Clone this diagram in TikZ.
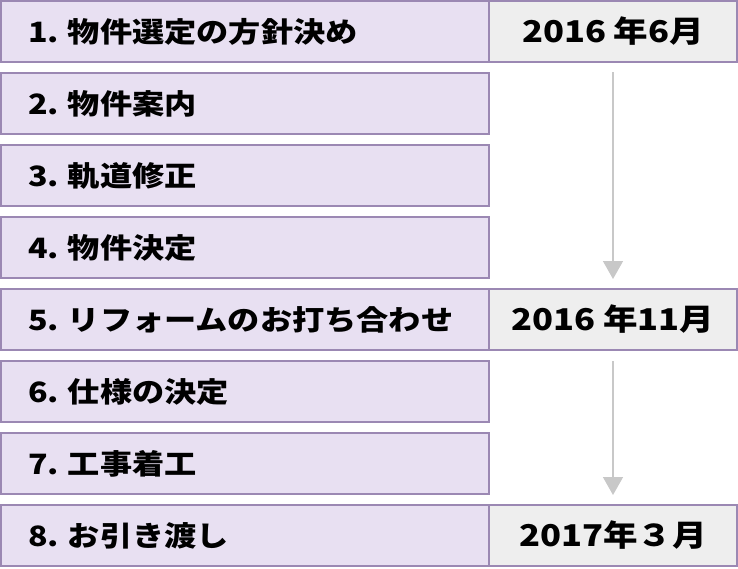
\documentclass[tikz,border=0pt]{standalone}
\usepackage{fontspec}
\setmainfont{Noto Sans CJK JP}[FakeStretch=1.15]
\usepackage{xcolor}
\usepackage{tikz}
\usetikzlibrary{arrows.meta}

\definecolor{itemfill}{HTML}{E8E0F2}
\definecolor{datefill}{HTML}{EEEEEE}
\definecolor{framecol}{HTML}{9B88B3}
\definecolor{flowgray}{HTML}{C8C8C8}

\tikzset{
    itembox/.style={draw=framecol, fill=itemfill, line width=2pt, outer sep=0pt,
        anchor=north west, inner xsep=27pt, text width=434pt, align=left,
        minimum height=61pt, font=\fontsize{28pt}{32pt}\selectfont\bfseries},
    datebox/.style={draw=framecol, fill=datefill, line width=2pt, outer sep=0pt,
        anchor=north west, inner sep=0pt, minimum width=248pt,
        minimum height=61pt, font=\fontsize{30pt}{34pt}\selectfont\bfseries},
    flow/.style={draw=flowgray, line width=1.5pt,
        -{Triangle[width=20pt,length=18pt]}}
}

\begin{document}
\begin{tikzpicture}[x=1pt,y=-1pt]
    \useasboundingbox (0,0) rectangle (738,568);
    % Steps on the left
    \foreach \n/\txt in {1/物件選定の方針決め, 2/物件案内, 3/軌道修正, 4/物件決定,
                         5/リフォームのお打ち合わせ, 6/仕様の決定, 7/工事着工, 8/お引き渡し} {
        \node[itembox] (item\n) at (1,{1+72*(\n-1)}) {\n.\hspace{9pt}\txt};
    }
    % Dates on the right
    \foreach \n/\when in {1/2016 年6月, 5/2016 年11月, 8/2017年３月} {
        \node[datebox] (date\n) at (item\n.north east) {\when};
    }
    % Arrows between the dates
    \coordinate (flowA) at (613,72);
    \coordinate (flowB) at (613,279);
    \coordinate (flowC) at (613,361);
    \coordinate (flowD) at (613,495);
    \draw[flow] (flowA) -- (flowB);
    \draw[flow] (flowC) -- (flowD);
\end{tikzpicture}
\end{document}
